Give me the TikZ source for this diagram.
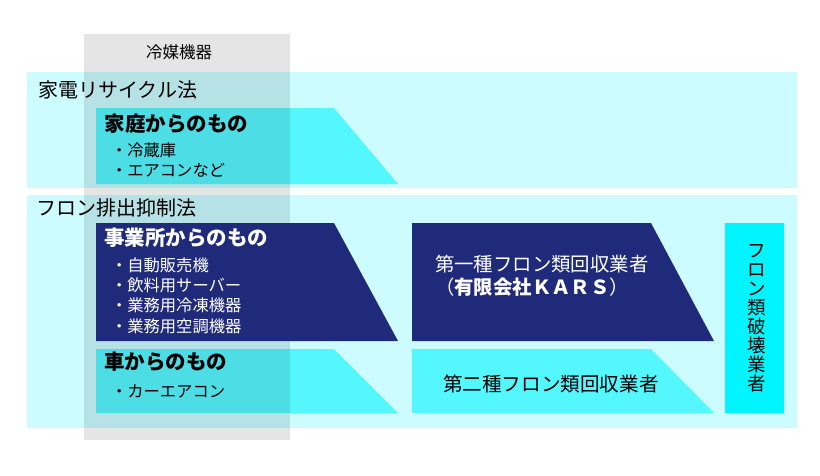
\documentclass[tikz,border=0pt]{standalone}
\usepackage{fontspec}
\setmainfont{Noto Sans CJK JP}
\definecolor{bandcyan}{RGB}{204,252,255}
\definecolor{boxcyan}{RGB}{85,247,255}
\definecolor{destcyan}{RGB}{0,245,255}
\definecolor{navy}{RGB}{31,42,122}
\begin{document}
\begin{tikzpicture}[
x=1pt, y=-1pt,
every node/.style = {inner sep=0pt, outer sep=0pt},
band/.style = {fill=bandcyan},
lightbox/.style = {fill=boxcyan},
darkbox/.style = {fill=navy},
title/.style = {anchor=west, font=\fontsize{20}{22}\selectfont},
head/.style = {anchor=west, font=\fontsize{20.5}{22}\selectfont\bfseries},
items/.style = {anchor=west, align=left, font=\fontsize{16.3}{20.4}\selectfont},
]
\useasboundingbox (0,0) rectangle (820,475);
% law bands
\fill[band] (27,72) rectangle (797,188);
\fill[band] (27,195) rectangle (797,428);
% light boxes
\fill[lightbox] (96,108) -- (334,108) -- (398,184) -- (96,184) -- cycle;
\fill[lightbox] (96,349) -- (334,349) -- (398,413) -- (96,413) -- cycle;
\fill[lightbox] (412,349) -- (651,349) -- (714,413) -- (412,413) -- cycle;
\fill[destcyan] (725,223) rectangle (784,413);
% refrigerant column
\fill[black, opacity=0.1] (84,34) rectangle (290,440);
% dark boxes
\fill[darkbox] (96,223) -- (334,223) -- (398,341) -- (96,341) -- cycle;
\fill[darkbox] (412,223) -- (651,223) -- (714,341) -- (412,341) -- cycle;
% texts
\node[font=\fontsize{16.5}{18}\selectfont] (reibai) at (179,52) {冷媒機器};
\node[title] (kaden) at (38,90) {家電リサイクル法};
\node[head] (katei) at (104.5,124) {家庭からのもの};
\node[items] (kateiitems) at (111,160) {・冷蔵庫\\・エアコンなど};
\node[title] (freon) at (36.5,208) {フロン排出抑制法};
\node[head, text=white] (jigyo) at (104,238) {事業所からのもの};
\node[items, text=white] (jigyoitems) at (111,295.5) {・自動販売機\\・飲料用サーバー\\・業務用冷凍機器\\・業務用空調機器};
\node[head] (kuruma) at (104,362) {車からのもの};
\node[items] (kurumaitems) at (111,391) {・カーエアコン};
\node[anchor=west, align=left, text=white, font=\fontsize{19.4}{23}\selectfont] (dai1) at (435,275.5)
  {第一種フロン類回収業者\\（\textbf{有限会社ＫＡＲＳ}）};
\node[anchor=west, font=\fontsize{19.6}{22}\selectfont] (dai2) at (443,384) {第二種フロン類回収業者};
\node[align=center, font=\fontsize{18.5}{19}\selectfont] (hakai) at (757,318)
  {フ\\ロ\\ン\\類\\破\\壊\\業\\者};
\end{tikzpicture}
\end{document}
